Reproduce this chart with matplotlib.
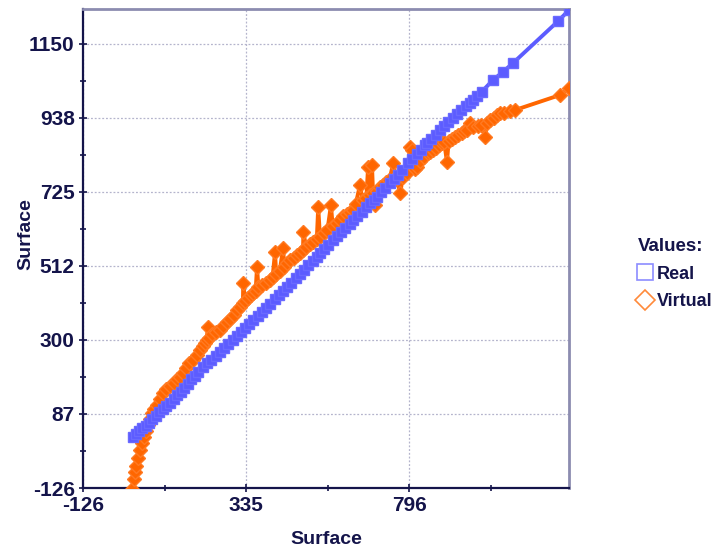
import matplotlib
matplotlib.use("Agg")
import matplotlib.pyplot as plt
from matplotlib.lines import Line2D
from matplotlib.ticker import FixedLocator, FixedFormatter

# Surface values on the horizontal axis and the two measured series
real_x = [15, 24, 33, 42, 51, 60, 70, 80, 90, 100, 110, 120, 130, 140, 150,
          160, 170, 180, 190, 200, 213, 225, 237, 249, 261, 273, 285, 297,
          309, 321, 332, 344, 356, 368, 380, 392, 404, 416, 428, 440, 451,
          463, 475, 487, 499, 511, 523, 535, 544, 556, 568, 580, 592, 604,
          616, 628, 638, 650, 662, 674, 686, 696, 705, 717, 729, 741, 753,
          765, 777, 793, 805, 817, 829, 841, 847, 859, 871, 883, 895, 907,
          920, 932, 944, 956, 968, 977, 989, 1001, 1033, 1062, 1090, 1217,
          1248]
real_y = [20, 28, 37, 45, 53, 62, 72, 81, 91, 100, 109, 118, 129, 140, 151,
          162, 174, 186, 197, 207, 221, 232, 243, 254, 264, 276, 287, 299,
          311, 322, 333, 345, 356, 368, 380, 392, 404, 416, 428, 440, 451,
          464, 476, 489, 501, 514, 526, 539, 549, 561, 573, 585, 597, 609,
          621, 633, 644, 656, 668, 680, 692, 702, 710, 723, 736, 749, 761,
          774, 787, 807, 820, 833, 845, 858, 865, 877, 889, 901, 913, 925,
          937, 948, 959, 970, 980, 988, 1000, 1012, 1046, 1070, 1095, 1215,
          1247]

virtual_x = [10, 13, 17, 21, 25, 30, 35, 40, 46, 52, 58, 64, 69, 75, 83, 92,
             100, 110, 120, 130, 140, 148, 158, 166, 175, 185, 195, 205, 212,
             218, 225, 226, 230, 240, 250, 261, 270, 280, 290, 300, 310, 318,
             326, 327, 332, 340, 348, 355, 362, 366, 370, 380, 390, 403, 410,
             417, 420, 430, 440, 443, 451, 460, 470, 480, 488, 496, 497, 505,
             515, 525, 535, 539, 544, 555, 565, 575, 580, 592, 600, 610, 620,
             630, 638, 645, 657, 665, 675, 680, 685, 691, 694, 700, 706, 714,
             722, 730, 740, 751, 760, 771, 778, 790, 799, 805, 812, 819, 828,
             838, 848, 856, 864, 872, 880, 888, 895, 903, 908, 916, 925, 935,
             945, 952, 960, 969, 978, 990, 1000, 1011, 1016, 1025, 1035, 1045,
             1053, 1065, 1080, 1096, 1223, 1248]
virtual_y = [-165, -130, -100, -80, -62, -40, -18, 2, 20, 38, 55, 72, 90, 100,
             112, 130, 147, 158, 168, 176, 186, 193, 205, 218, 232, 242, 256,
             270, 282, 290, 300, 336, 305, 315, 322, 328, 340, 352, 360, 372,
             385, 395, 405, 463, 412, 420, 428, 434, 440, 509, 450, 456, 462,
             471, 480, 552, 490, 498, 563, 508, 520, 528, 536, 544, 550, 557,
             609, 566, 574, 582, 590, 681, 595, 606, 615, 687, 626, 635, 645,
             655, 662, 668, 672, 690, 744, 700, 708, 796, 715, 802, 721, 687,
             728, 738, 745, 752, 758, 807, 762, 721, 768, 780, 853, 845, 790,
             796, 812, 825, 835, 840, 845, 852, 858, 864, 868, 810, 872, 876,
             882, 888, 895, 900, 902, 922, 910, 915, 918, 882, 922, 930, 938,
             945, 950, 952, 957, 960, 1003, 1023]

tick_values = [-126, 87, 300, 512, 725, 938, 1150]
x_tick_values = [-126, 335, 796]

NAVY = "#14144a"
BLUE = "#5c5cff"
ORANGE = "#ff6600"
FONT = "Liberation Sans"

fig = plt.figure(figsize=(7.16, 5.48), dpi=100)
ax = fig.add_axes([83 / 716, 60 / 548, 486 / 716, 479 / 548])

ax.plot(virtual_x, virtual_y, color=ORANGE, lw=2.8, marker="D", ms=7.5,
        mfc=ORANGE, mec="#ff7a22", zorder=3)
ax.plot(real_x, real_y, color=BLUE, lw=2.8, marker="s", ms=7.5,
        mfc=BLUE, mec="#6a6aff", zorder=4)

ax.set_xlim(-126, 1248)
ax.set_ylim(-126, 1250)

# Major ticks with labels, minor ticks half-way between them
y_step = (tick_values[-1] - tick_values[0]) / (len(tick_values) - 1)
x_step = x_tick_values[1] - x_tick_values[0]
ax.yaxis.set_major_locator(FixedLocator([tick_values[0] + i * y_step for i in range(len(tick_values))]))
ax.yaxis.set_major_formatter(FixedFormatter([str(v) for v in tick_values]))
ax.yaxis.set_minor_locator(FixedLocator([tick_values[0] + (i + 0.5) * y_step for i in range(len(tick_values))]))
ax.xaxis.set_major_locator(FixedLocator([x_tick_values[0] + i * x_step for i in range(len(x_tick_values))]))
ax.xaxis.set_major_formatter(FixedFormatter([str(v) for v in x_tick_values]))
ax.xaxis.set_minor_locator(FixedLocator([x_tick_values[0] + (i + 0.5) * x_step for i in range(len(x_tick_values))]))

ax.grid(True, which="major", color="#b4b4cc", linestyle=(0, (1.5, 1.5)), lw=0.9)
ax.set_axisbelow(True)

for side in ("left", "bottom"):
    ax.spines[side].set_color(NAVY)
    ax.spines[side].set_linewidth(1.6)
for side in ("top", "right"):
    ax.spines[side].set_color("#8c8cb0")
    ax.spines[side].set_linewidth(2.0)

ax.tick_params(which="both", direction="inout", color=NAVY, width=1.2,
               labelcolor=NAVY)
ax.tick_params(which="major", length=6, pad=3)
ax.tick_params(which="minor", length=5)
for lab in ax.get_xticklabels() + ax.get_yticklabels():
    lab.set_fontfamily(FONT)
    lab.set_fontweight("bold")
    lab.set_fontsize(15)

ax.set_xlabel("Surface", fontfamily=FONT, fontweight="bold",
              fontsize=14, color=NAVY, labelpad=11)
ax.set_ylabel("Surface", fontfamily=FONT, fontweight="bold",
              fontsize=14, color=NAVY)
ax.yaxis.set_label_coords(-0.1, 0.53)

handles = [
    Line2D([], [], ls="none", marker="s", ms=11, mfc="white", mec="#8c8cff", mew=1.2),
    Line2D([], [], ls="none", marker="D", ms=10, mfc="white", mec="#ff8a3a", mew=1.2),
]
leg = fig.legend(handles, ["Real", "Virtual"], title="Values:",
                 loc="upper left", bbox_to_anchor=(636 / 716, 1 - 236 / 548),
                 frameon=False, handlelength=0.8, handletextpad=0.25,
                 labelspacing=0.6, borderpad=0.1, borderaxespad=0.0,
                 prop={"family": FONT, "weight": "bold", "size": 13},
                 title_fontproperties={"family": FONT, "weight": "bold", "size": 13.5})
leg._legend_box.align = "left"
for t in leg.get_texts():
    t.set_color(NAVY)
leg.get_title().set_color(NAVY)

fig.savefig("out.png", dpi=100)
